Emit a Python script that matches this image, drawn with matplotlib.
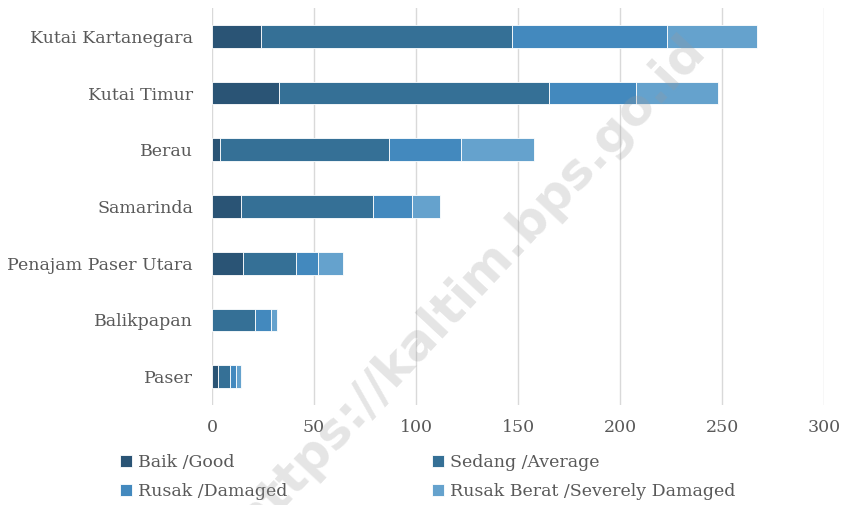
import matplotlib
matplotlib.use("Agg")
import matplotlib.pyplot as plt
import numpy as np

regions = ["Kutai Kartanegara", "Kutai Timur", "Berau", "Samarinda",
           "Penajam Paser Utara", "Balikpapan", "Paser"]
baik = [24, 33, 4, 14, 15, 0, 3]
sedang = [123, 132, 83, 65, 26, 21, 6]
rusak = [76, 43, 35, 19, 11, 8, 3]
rusak_berat = [44, 40, 36, 14, 12, 3, 2]
series_names = ["Baik /Good", "Sedang /Average", "Rusak /Damaged",
                "Rusak Berat /Severely Damaged"]
colors = ["#2a5475", "#357096", "#4389be", "#65a2cd"]
xticks = [0, 50, 100, 150, 200, 250, 300]

plt.rcParams['font.family'] = ['DejaVu Serif']
text_color = "#595959"

fig = plt.figure(figsize=(8.44, 5.05), dpi=100)
ax = fig.add_axes([0.2512, 0.198, 0.7251, 0.786])

y = np.arange(len(regions))
left = np.zeros(len(regions))
for vals, name, c in zip([baik, sedang, rusak, rusak_berat], series_names, colors):
    ax.barh(y, vals, left=left, height=0.4, color=c, label=name,
            edgecolor="white", linewidth=0.6, zorder=3)
    left += np.array(vals)

ax.set_ylim(len(regions) - 0.5, -0.5)
ax.set_xlim(0, 300)
ax.set_xticks(xticks)
ax.set_yticks(y)
ax.set_yticklabels(regions)
ax.tick_params(axis="both", length=0, labelsize=12.5, colors=text_color)
ax.tick_params(axis="x", pad=10)
ax.tick_params(axis="y", pad=13.7)
ax.grid(axis="x", color="#d9d9d9", linewidth=1, zorder=0)
for s in ax.spines.values():
    s.set_visible(False)

# legend filled row by row like the original
handles, labels = ax.get_legend_handles_labels()
order = [0, 2, 1, 3]
leg = fig.legend([handles[i] for i in order], [labels[i] for i in order],
                 loc="upper left", bbox_to_anchor=(0.134, 0.114),
                 ncol=2, frameon=False, fontsize=12.5, handlelength=0.7,
                 handleheight=0.7, handletextpad=0.35, columnspacing=8.3,
                 labelspacing=0.65, borderaxespad=0)
for t in leg.get_texts():
    t.set_color(text_color)

# watermark
fig.text(0.557, 0.436, "https://kaltim.bps.go.id", fontsize=36, fontweight="bold",
         family="DejaVu Sans", color="#9a9a9a", alpha=0.26, rotation=47,
         ha="center", va="center", zorder=10)

fig.savefig("out.png", dpi=100)
